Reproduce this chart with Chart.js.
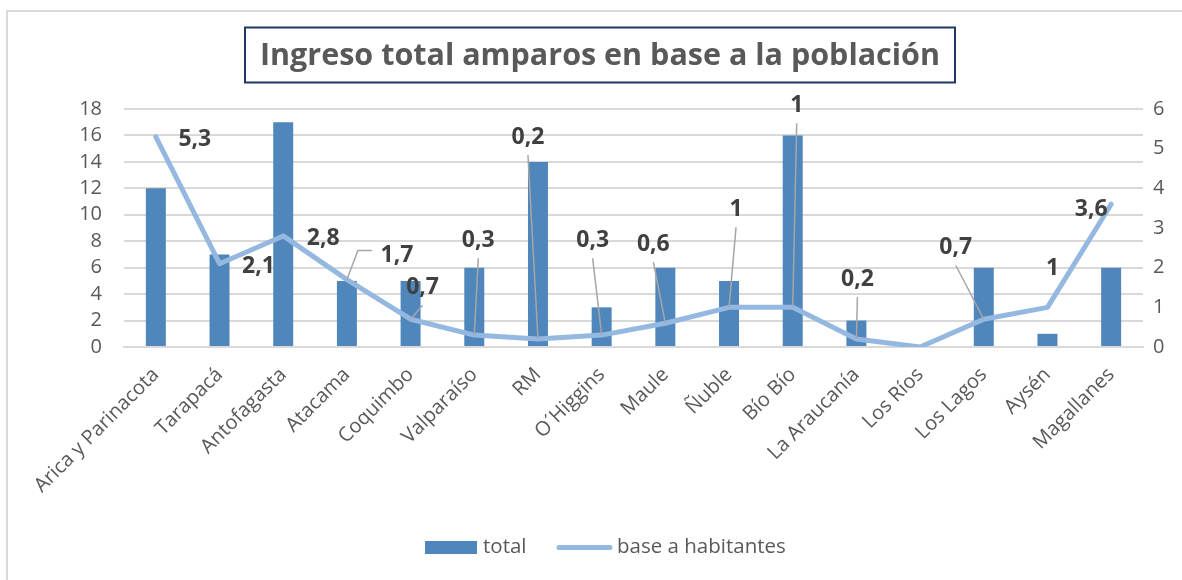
<!DOCTYPE html>
<html>
<head>
<meta charset="utf-8">
<script src="https://cdn.jsdelivr.net/npm/chart.js@4.4.1/dist/chart.umd.min.js"></script>
<style>
html,body{margin:0;padding:0;background:#fff;}
#wrap{position:relative;width:1182px;height:580px;}
</style>
</head>
<body>
<div id="wrap"><canvas id="c" width="1182" height="580"></canvas></div>
<script>
const categories = ["Arica y Parinacota","Tarapacá","Antofagasta","Atacama","Coquimbo","Valparaíso","RM","O´Higgins","Maule","Ñuble","Bío Bío","La Araucanía","Los Ríos","Los Lagos","Aysén","Magallanes"];
const totalValues = [12,7,17,5,5,6,14,3,6,5,16,2,0,6,1,6];
const baseValues = [5.3,2.1,2.8,1.7,0.7,0.3,0.2,0.3,0.6,1,1,0.2,0,0.7,1,3.6];
const baseLabels = ["5,3","2,1","2,8","1,7","0,7","0,3","0,2","0,3","0,6","1","1","0,2",null,"0,7","1","3,6"];
const leftTicks = [0,2,4,6,8,10,12,14,16,18];
const rightTicks = [0,1,2,3,4,5,6];
const titleText = "Ingreso total amparos en base a la población";
const seriesNames = ["total","base a habitantes"];

// label placement relative to each line point: [dx, dy, leader] (leader: 0 none, 1 straight, 2 elbow)
const labelPlacement = [
  [39,3,0],[39,3,0],[40,3,0],[50,-24,2],[12,-32,1],[4,-95,1],[-10,-202,1],[-9,-95,1],
  [-12,-79,1],[7,-98,1],[4,-202,1],[1,-60,1],[0,0,0],[-28,-72,1],[5,-39,0],[-20,5,0]
];

const FONT = "'Open Sans', sans-serif";
const BAR = "#4F87BD";
const LINE = "#95B8E1";
const TXT = "#595959";

const decor = {
  id:'decor',
  afterDraw(chart){
    const ctx = chart.ctx;
    ctx.save();
    // outer border (top and left)
    ctx.strokeStyle = '#D9D9D9';
    ctx.lineWidth = 2;
    ctx.beginPath();
    ctx.moveTo(7,580); ctx.lineTo(7,11); ctx.lineTo(1182,11);
    ctx.stroke();
    // title box
    let fs = 32;
    ctx.font = "bold " + fs + "px " + FONT;
    while (ctx.measureText(titleText).width > 687 && fs > 10) {
      fs -= 0.5;
      ctx.font = "bold " + fs + "px " + FONT;
    }
    const cx = 600, cy = 55;
    const bw = 710, bh = 55;
    ctx.fillStyle = '#fff';
    ctx.fillRect(cx-bw/2, cy-bh/2, bw, bh);
    ctx.strokeStyle = '#1F3864';
    ctx.lineWidth = 2;
    ctx.strokeRect(cx-bw/2, cy-bh/2, bw, bh);
    ctx.fillStyle = TXT;
    ctx.textAlign = 'center';
    ctx.textBaseline = 'middle';
    ctx.fillText(titleText, cx, cy+1);

    // data labels for line
    const meta = chart.getDatasetMeta(1);
    ctx.font = "bold 23px " + FONT;
    meta.data.forEach((pt, i) => {
      const lab = baseLabels[i];
      if (lab === null) return;
      const [dx, dy, leader] = labelPlacement[i];
      const lx = pt.x + dx, ly = pt.y + dy;
      if (leader) {
        ctx.strokeStyle = '#A6A6A6';
        ctx.lineWidth = 1.5;
        ctx.beginPath();
        ctx.moveTo(pt.x, pt.y);
        if (leader === 2) {
          ctx.lineTo(lx - 39, ly - 5);
          ctx.lineTo(lx - 25, ly - 5);
        } else {
          ctx.lineTo(lx, ly + 18);
        }
        ctx.stroke();
      }
      ctx.fillStyle = '#404040';
      ctx.textAlign = 'center';
      ctx.textBaseline = 'middle';
      ctx.fillText(lab, lx, ly);
    });

    // legend
    ctx.font = "20.5px " + FONT;
    ctx.textBaseline = 'middle';
    ctx.textAlign = 'left';
    const ly = 547.5;
    ctx.fillStyle = BAR;
    ctx.fillRect(425, 541, 52, 13);
    ctx.fillStyle = TXT;
    ctx.fillText(seriesNames[0], 483, ly);
    ctx.strokeStyle = LINE;
    ctx.lineWidth = 5;
    ctx.lineCap = 'round';
    ctx.beginPath();
    ctx.moveTo(559, ly); ctx.lineTo(610, ly);
    ctx.stroke();
    ctx.fillStyle = TXT;
    ctx.fillText(seriesNames[1], 617, ly);
    ctx.restore();
  }
};

new Chart(document.getElementById('c'), {
  data: {
    labels: categories,
    datasets: [
      {type:'bar', label: seriesNames[0], data: totalValues, backgroundColor: BAR, yAxisID:'y', order:2,
       barPercentage: 0.314, categoryPercentage: 1.0},
      {type:'line', label: seriesNames[1], data: baseValues, borderColor: LINE, borderWidth: 5,
       pointRadius: 0, tension: 0, yAxisID:'y1', order:1, borderJoinStyle:'round', borderCapStyle:'round'}
    ]
  },
  options: {
    responsive:false,
    animation:false,
    devicePixelRatio:1,
    layout:{padding:{top:109, bottom:50, left:0, right:0}},
    plugins:{legend:{display:false}, title:{display:false}, tooltip:{enabled:false}},
    scales:{
      x:{
        grid:{display:false, drawTicks:false},
        border:{display:true, color:'#D9D9D9', width:2},
        ticks:{color:TXT, font:{family:FONT, size:20}, minRotation:45, maxRotation:45, autoSkip:false, padding:16},
        afterFit(s){ s.height = 580 - 50 - 347; }
      },
      y:{
        position:'left', min:0, max:18,
        afterBuildTicks(s){ s.ticks = leftTicks.map(v=>({value:v})); },
        grid:{color:'#D9D9D9', lineWidth:2, drawTicks:false},
        border:{display:false},
        ticks:{color:TXT, font:{family:FONT, size:20}, padding:22, autoSkip:false},
        afterFit(s){ s.width = 124; }
      },
      y1:{
        position:'right', min:0, max:6,
        afterBuildTicks(s){ s.ticks = rightTicks.map(v=>({value:v})); },
        grid:{display:false, drawTicks:false},
        border:{display:false},
        ticks:{color:TXT, font:{family:FONT, size:20}, padding:10, autoSkip:false},
        afterFit(s){ s.width = 1182 - 1143; }
      }
    }
  },
  plugins:[decor]
});
</script>
</body>
</html>
